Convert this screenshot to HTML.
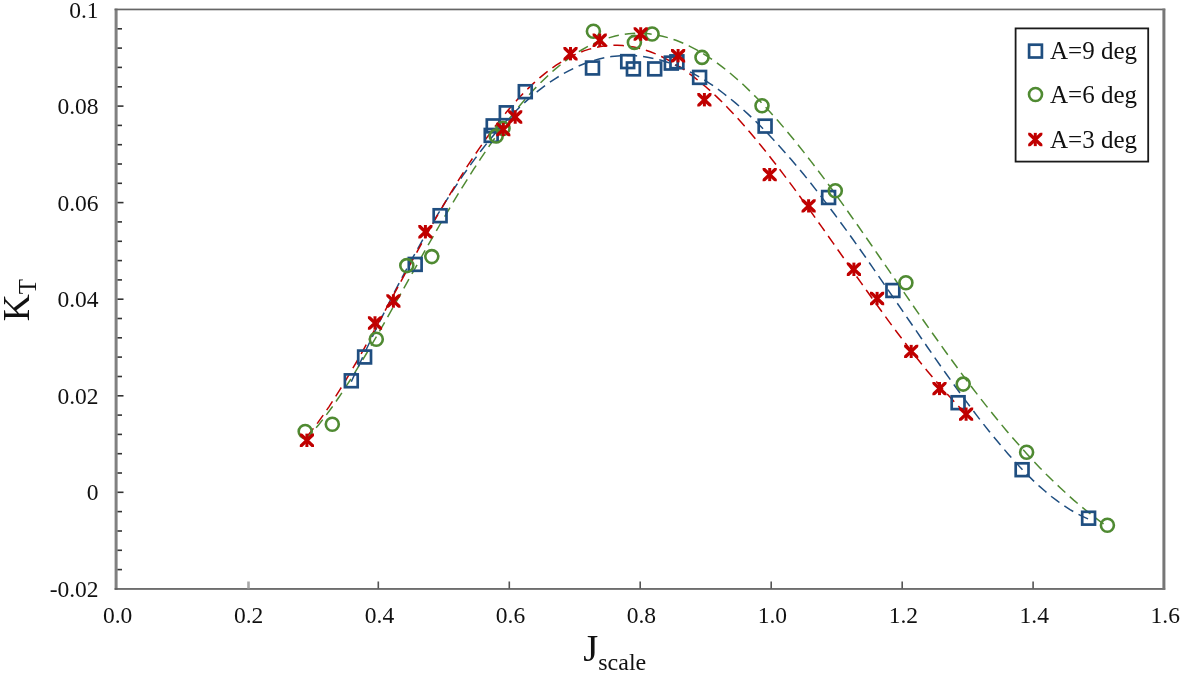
<!DOCTYPE html>
<html><head><meta charset="utf-8"><title>KT vs Jscale</title>
<style>
html,body{margin:0;padding:0;background:#fff;}
svg{display:block;}
text{font-family:"Liberation Serif",serif;fill:#111;}
.tick{font-size:23.5px;}
.leg{font-size:25px;}
</style></head><body>
<svg width="1180" height="673" viewBox="0 0 1180 673">
<rect x="0" y="0" width="1180" height="673" fill="#fff"/>
<defs><clipPath id="sc"><rect x="-7.1" y="-6.7" width="14.2" height="13.4"/></clipPath>
<g id="star" clip-path="url(#sc)" fill="none" stroke="#c00000"><path d="M-9,-8.5L9,8.5M-9,8.5L9,-8.5" stroke-width="3.4"/><path d="M0,-7L0,7" stroke-width="3"/></g></defs>

<g fill="none">
<rect x="114.6" y="8.6" width="3" height="581.2" fill="#808080"/>
<rect x="114.6" y="588.1" width="1050.6" height="1.7" fill="#5e5e5e"/>
<rect x="114.6" y="8.6" width="1050.6" height="1.7" fill="#666"/>
<rect x="1162.4" y="8.6" width="3" height="581.2" fill="#777"/>
</g>
<rect x="117.5" y="28.0" width="4.5" height="1.6" fill="#333"/>
<rect x="117.5" y="47.3" width="4.5" height="1.6" fill="#333"/>
<rect x="117.5" y="66.6" width="4.5" height="1.6" fill="#333"/>
<rect x="117.5" y="86.0" width="4.5" height="1.6" fill="#333"/>
<rect x="117.5" y="105.3" width="6" height="1.6" fill="#333"/>
<rect x="117.5" y="124.6" width="4.5" height="1.6" fill="#333"/>
<rect x="117.5" y="143.9" width="4.5" height="1.6" fill="#333"/>
<rect x="117.5" y="163.2" width="4.5" height="1.6" fill="#333"/>
<rect x="117.5" y="182.5" width="4.5" height="1.6" fill="#333"/>
<rect x="117.5" y="201.8" width="6" height="1.6" fill="#333"/>
<rect x="117.5" y="221.1" width="4.5" height="1.6" fill="#333"/>
<rect x="117.5" y="240.5" width="4.5" height="1.6" fill="#333"/>
<rect x="117.5" y="259.8" width="4.5" height="1.6" fill="#333"/>
<rect x="117.5" y="279.1" width="4.5" height="1.6" fill="#333"/>
<rect x="117.5" y="298.4" width="6" height="1.6" fill="#333"/>
<rect x="117.5" y="317.7" width="4.5" height="1.6" fill="#333"/>
<rect x="117.5" y="337.0" width="4.5" height="1.6" fill="#333"/>
<rect x="117.5" y="356.3" width="4.5" height="1.6" fill="#333"/>
<rect x="117.5" y="375.7" width="4.5" height="1.6" fill="#333"/>
<rect x="117.5" y="395.0" width="6" height="1.6" fill="#333"/>
<rect x="117.5" y="414.3" width="4.5" height="1.6" fill="#333"/>
<rect x="117.5" y="433.6" width="4.5" height="1.6" fill="#333"/>
<rect x="117.5" y="452.9" width="4.5" height="1.6" fill="#333"/>
<rect x="117.5" y="472.2" width="4.5" height="1.6" fill="#333"/>
<rect x="117.5" y="491.5" width="6" height="1.6" fill="#333"/>
<rect x="117.5" y="510.8" width="4.5" height="1.6" fill="#333"/>
<rect x="117.5" y="530.2" width="4.5" height="1.6" fill="#333"/>
<rect x="117.5" y="549.5" width="4.5" height="1.6" fill="#333"/>
<rect x="117.5" y="568.8" width="4.5" height="1.6" fill="#333"/>
<rect x="247.2" y="581.5" width="2.6" height="7" fill="#a8a8a8"/>
<rect x="377.5" y="581.5" width="1.6" height="7" fill="#555"/>
<rect x="508.5" y="581.5" width="1.6" height="7" fill="#555"/>
<rect x="639.4" y="581.5" width="1.6" height="7" fill="#555"/>
<rect x="770.4" y="581.5" width="1.6" height="7" fill="#555"/>
<rect x="901.4" y="581.5" width="1.6" height="7" fill="#555"/>
<rect x="1032.3" y="581.5" width="1.6" height="7" fill="#555"/>
<text class="tick" x="98.6" y="17.6" text-anchor="end">0.1</text>
<text class="tick" x="98.6" y="114.2" text-anchor="end">0.08</text>
<text class="tick" x="98.6" y="210.7" text-anchor="end">0.06</text>
<text class="tick" x="98.6" y="307.3" text-anchor="end">0.04</text>
<text class="tick" x="98.6" y="403.9" text-anchor="end">0.02</text>
<text class="tick" x="98.6" y="500.4" text-anchor="end">0</text>
<text class="tick" x="98.6" y="597.0" text-anchor="end">-0.02</text>
<text class="tick" x="117.6" y="623.4" text-anchor="middle">0.0</text>
<text class="tick" x="248.6" y="623.4" text-anchor="middle">0.2</text>
<text class="tick" x="379.5" y="623.4" text-anchor="middle">0.4</text>
<text class="tick" x="510.5" y="623.4" text-anchor="middle">0.6</text>
<text class="tick" x="641.4" y="623.4" text-anchor="middle">0.8</text>
<text class="tick" x="772.4" y="623.4" text-anchor="middle">1.0</text>
<text class="tick" x="903.4" y="623.4" text-anchor="middle">1.2</text>
<text class="tick" x="1034.3" y="623.4" text-anchor="middle">1.4</text>
<text class="tick" x="1165.3" y="623.4" text-anchor="middle">1.6</text>
<text transform="translate(28.6,321.3) rotate(-90)" font-size="37.5"><tspan>K</tspan><tspan font-size="25" dy="7">T</tspan></text>
<text x="583.3" y="661.2" font-size="38.5"><tspan>J</tspan><tspan font-size="24" dy="8.6">scale</tspan></text>
<path d="M305.2,440.2 L311.9,432.8 L318.7,424.8 L325.4,416.2 L332.2,407.0 L338.9,397.3 L345.6,387.1 L352.4,376.6 L359.1,365.7 L365.9,354.5 L372.6,343.1 L379.4,331.5 L386.1,319.7 L392.8,307.8 L399.6,295.8 L406.3,283.8 L413.1,271.8 L419.8,259.8 L426.5,247.9 L433.3,236.2 L440.0,224.5 L446.8,213.0 L453.5,201.7 L460.2,190.6 L467.0,179.8 L473.7,169.2 L480.5,158.9 L487.2,148.9 L494.0,139.3 L500.7,129.9 L507.4,121.0 L514.2,112.4 L520.9,104.2 L527.7,96.5 L534.4,89.1 L541.1,82.2 L547.9,75.7 L554.6,69.6 L561.4,64.0 L568.1,58.9 L574.8,54.2 L581.6,50.0 L588.3,46.2 L595.1,43.0 L601.8,40.2 L608.6,37.9 L615.3,36.0 L622.0,34.7 L628.8,33.8 L635.5,33.3 L642.3,33.3 L649.0,33.8 L655.7,34.8 L662.5,36.2 L669.2,38.0 L676.0,40.3 L682.7,43.0 L689.4,46.1 L696.2,49.6 L702.9,53.5 L709.7,57.8 L716.4,62.5 L723.2,67.6 L729.9,73.0 L736.6,78.8 L743.4,84.8 L750.1,91.3 L756.9,98.0 L763.6,105.0 L770.3,112.3 L777.1,119.8 L783.8,127.6 L790.6,135.7 L797.3,143.9 L804.0,152.4 L810.8,161.1 L817.5,169.9 L824.3,178.9 L831.0,188.0 L837.8,197.3 L844.5,206.7 L851.2,216.2 L858.0,225.8 L864.7,235.5 L871.5,245.2 L878.2,255.0 L884.9,264.7 L891.7,274.5 L898.4,284.3 L905.2,294.1 L911.9,303.9 L918.6,313.6 L925.4,323.2 L932.1,332.8 L938.9,342.3 L945.6,351.7 L952.4,361.0 L959.1,370.2 L965.8,379.3 L972.6,388.2 L979.3,397.0 L986.1,405.6 L992.8,414.0 L999.5,422.3 L1006.3,430.4 L1013.0,438.3 L1019.8,446.0 L1026.5,453.5 L1033.2,460.8 L1040.0,467.9 L1046.7,474.8 L1053.5,481.4 L1060.2,487.8 L1067.0,494.1 L1073.7,500.1 L1080.4,505.8 L1087.2,511.4 L1093.9,516.7 L1100.7,521.8 L1107.4,526.8" fill="none" stroke="#4f8a32" stroke-width="1.5" stroke-dasharray="10.5 6"/>
<path d="M351.3,381.7 L357.5,368.2 L363.7,354.9 L369.9,341.8 L376.1,328.9 L382.3,316.3 L388.5,303.9 L394.7,291.7 L400.9,279.8 L407.1,268.1 L413.3,256.7 L419.5,245.6 L425.6,234.7 L431.8,224.1 L438.0,213.9 L444.2,203.9 L450.4,194.2 L456.6,184.8 L462.8,175.7 L469.0,166.9 L475.2,158.4 L481.4,150.3 L487.6,142.4 L493.8,134.9 L500.0,127.7 L506.2,120.9 L512.4,114.4 L518.6,108.2 L524.8,102.4 L531.0,96.9 L537.2,91.7 L543.4,86.9 L549.6,82.4 L555.8,78.3 L562.0,74.5 L568.2,71.1 L574.3,68.0 L580.5,65.2 L586.7,62.8 L592.9,60.7 L599.1,59.0 L605.3,57.6 L611.5,56.6 L617.7,55.9 L623.9,55.5 L630.1,55.5 L636.3,55.8 L642.5,56.4 L648.7,57.4 L654.9,58.7 L661.1,60.3 L667.3,62.2 L673.5,64.4 L679.7,67.0 L685.9,69.8 L692.1,72.9 L698.3,76.4 L704.5,80.1 L710.7,84.1 L716.9,88.4 L723.0,93.0 L729.2,97.8 L735.4,102.9 L741.6,108.3 L747.8,113.9 L754.0,119.7 L760.2,125.8 L766.4,132.1 L772.6,138.7 L778.8,145.4 L785.0,152.4 L791.2,159.5 L797.4,166.8 L803.6,174.3 L809.8,182.0 L816.0,189.9 L822.2,197.9 L828.4,206.0 L834.6,214.3 L840.8,222.7 L847.0,231.2 L853.2,239.8 L859.4,248.5 L865.6,257.3 L871.7,266.2 L877.9,275.1 L884.1,284.1 L890.3,293.1 L896.5,302.1 L902.7,311.2 L908.9,320.2 L915.1,329.2 L921.3,338.2 L927.5,347.2 L933.7,356.1 L939.9,365.0 L946.1,373.7 L952.3,382.4 L958.5,391.0 L964.7,399.4 L970.9,407.7 L977.1,415.9 L983.3,423.9 L989.5,431.7 L995.7,439.3 L1001.9,446.7 L1008.1,453.9 L1014.3,460.9 L1020.4,467.5 L1026.6,473.9 L1032.8,480.1 L1039.0,485.9 L1045.2,491.3 L1051.4,496.5 L1057.6,501.2 L1063.8,505.6 L1070.0,509.6 L1076.2,513.2 L1082.4,516.4 L1088.6,519.1" fill="none" stroke="#1f4e80" stroke-width="1.5" stroke-dasharray="10.5 6"/>
<path d="M306.9,436.6 L312.4,429.7 L318.0,422.4 L323.5,414.7 L329.1,406.6 L334.6,398.1 L340.1,389.4 L345.7,380.3 L351.2,371.0 L356.8,361.5 L362.3,351.8 L367.8,341.9 L373.4,332.0 L378.9,321.9 L384.5,311.7 L390.0,301.5 L395.5,291.3 L401.1,281.1 L406.6,270.9 L412.2,260.7 L417.7,250.7 L423.2,240.7 L428.8,230.8 L434.3,221.0 L439.8,211.4 L445.4,201.9 L450.9,192.6 L456.5,183.5 L462.0,174.6 L467.5,165.9 L473.1,157.5 L478.6,149.3 L484.2,141.3 L489.7,133.7 L495.2,126.3 L500.8,119.1 L506.3,112.3 L511.9,105.8 L517.4,99.6 L522.9,93.7 L528.5,88.1 L534.0,82.9 L539.6,77.9 L545.1,73.4 L550.6,69.1 L556.2,65.2 L561.7,61.7 L567.3,58.5 L572.8,55.6 L578.3,53.1 L583.9,50.9 L589.4,49.1 L595.0,47.7 L600.5,46.6 L606.0,45.8 L611.6,45.4 L617.1,45.3 L622.7,45.5 L628.2,46.1 L633.7,47.1 L639.3,48.3 L644.8,49.9 L650.3,51.8 L655.9,54.0 L661.4,56.5 L667.0,59.3 L672.5,62.4 L678.0,65.8 L683.6,69.4 L689.1,73.4 L694.7,77.6 L700.2,82.1 L705.7,86.8 L711.3,91.7 L716.8,96.9 L722.4,102.3 L727.9,108.0 L733.4,113.8 L739.0,119.8 L744.5,126.1 L750.1,132.5 L755.6,139.0 L761.1,145.8 L766.7,152.6 L772.2,159.7 L777.8,166.8 L783.3,174.1 L788.8,181.4 L794.4,188.9 L799.9,196.5 L805.5,204.1 L811.0,211.8 L816.5,219.6 L822.1,227.4 L827.6,235.2 L833.2,243.1 L838.7,251.0 L844.2,258.8 L849.8,266.7 L855.3,274.6 L860.8,282.4 L866.4,290.2 L871.9,298.0 L877.5,305.7 L883.0,313.3 L888.5,320.9 L894.1,328.4 L899.6,335.7 L905.2,343.0 L910.7,350.2 L916.2,357.3 L921.8,364.2 L927.3,371.0 L932.9,377.6 L938.4,384.1 L943.9,390.5 L949.5,396.6 L955.0,402.6 L960.6,408.5 L966.1,414.1" fill="none" stroke="#c00000" stroke-width="1.5" stroke-dasharray="10.5 6"/>
<rect x="344.9" y="374.4" width="12.8" height="12.8" fill="none" stroke="#1f4e80" stroke-width="2.7"/>
<rect x="358.2" y="350.6" width="12.8" height="12.8" fill="none" stroke="#1f4e80" stroke-width="2.7"/>
<rect x="408.8" y="258.0" width="12.8" height="12.8" fill="none" stroke="#1f4e80" stroke-width="2.7"/>
<rect x="433.7" y="209.3" width="12.8" height="12.8" fill="none" stroke="#1f4e80" stroke-width="2.7"/>
<rect x="484.8" y="129.0" width="12.8" height="12.8" fill="none" stroke="#1f4e80" stroke-width="2.7"/>
<rect x="486.8" y="119.5" width="12.8" height="12.8" fill="none" stroke="#1f4e80" stroke-width="2.7"/>
<rect x="499.9" y="106.4" width="12.8" height="12.8" fill="none" stroke="#1f4e80" stroke-width="2.7"/>
<rect x="518.9" y="85.3" width="12.8" height="12.8" fill="none" stroke="#1f4e80" stroke-width="2.7"/>
<rect x="586.1" y="61.6" width="12.8" height="12.8" fill="none" stroke="#1f4e80" stroke-width="2.7"/>
<rect x="621.3" y="55.2" width="12.8" height="12.8" fill="none" stroke="#1f4e80" stroke-width="2.7"/>
<rect x="627.0" y="62.5" width="12.8" height="12.8" fill="none" stroke="#1f4e80" stroke-width="2.7"/>
<rect x="648.3" y="62.5" width="12.8" height="12.8" fill="none" stroke="#1f4e80" stroke-width="2.7"/>
<rect x="664.9" y="56.7" width="12.8" height="12.8" fill="none" stroke="#1f4e80" stroke-width="2.7"/>
<rect x="670.5" y="55.4" width="12.8" height="12.8" fill="none" stroke="#1f4e80" stroke-width="2.7"/>
<rect x="693.2" y="71.0" width="12.8" height="12.8" fill="none" stroke="#1f4e80" stroke-width="2.7"/>
<rect x="758.7" y="119.7" width="12.8" height="12.8" fill="none" stroke="#1f4e80" stroke-width="2.7"/>
<rect x="822.2" y="191.1" width="12.8" height="12.8" fill="none" stroke="#1f4e80" stroke-width="2.7"/>
<rect x="886.5" y="284.1" width="12.8" height="12.8" fill="none" stroke="#1f4e80" stroke-width="2.7"/>
<rect x="951.7" y="396.3" width="12.8" height="12.8" fill="none" stroke="#1f4e80" stroke-width="2.7"/>
<rect x="1015.7" y="463.3" width="12.8" height="12.8" fill="none" stroke="#1f4e80" stroke-width="2.7"/>
<rect x="1082.2" y="511.8" width="12.8" height="12.8" fill="none" stroke="#1f4e80" stroke-width="2.7"/>
<circle cx="305.2" cy="431.5" r="6.5" fill="none" stroke="#4f8a32" stroke-width="2.6"/>
<circle cx="332.3" cy="424.3" r="6.5" fill="none" stroke="#4f8a32" stroke-width="2.6"/>
<circle cx="376.3" cy="339.2" r="6.5" fill="none" stroke="#4f8a32" stroke-width="2.6"/>
<circle cx="406.8" cy="265.6" r="6.5" fill="none" stroke="#4f8a32" stroke-width="2.6"/>
<circle cx="431.8" cy="256.6" r="6.5" fill="none" stroke="#4f8a32" stroke-width="2.6"/>
<circle cx="496.2" cy="136.0" r="6.5" fill="none" stroke="#4f8a32" stroke-width="2.6"/>
<circle cx="503.0" cy="128.5" r="6.5" fill="none" stroke="#4f8a32" stroke-width="2.6"/>
<circle cx="593.4" cy="31.2" r="6.5" fill="none" stroke="#4f8a32" stroke-width="2.6"/>
<circle cx="634.4" cy="42.4" r="6.5" fill="none" stroke="#4f8a32" stroke-width="2.6"/>
<circle cx="652.1" cy="34.0" r="6.5" fill="none" stroke="#4f8a32" stroke-width="2.6"/>
<circle cx="702.0" cy="57.4" r="6.5" fill="none" stroke="#4f8a32" stroke-width="2.6"/>
<circle cx="762.0" cy="105.8" r="6.5" fill="none" stroke="#4f8a32" stroke-width="2.6"/>
<circle cx="835.3" cy="190.7" r="6.5" fill="none" stroke="#4f8a32" stroke-width="2.6"/>
<circle cx="905.9" cy="282.7" r="6.5" fill="none" stroke="#4f8a32" stroke-width="2.6"/>
<circle cx="963.2" cy="384.1" r="6.5" fill="none" stroke="#4f8a32" stroke-width="2.6"/>
<circle cx="1026.6" cy="452.3" r="6.5" fill="none" stroke="#4f8a32" stroke-width="2.6"/>
<circle cx="1107.4" cy="525.3" r="6.5" fill="none" stroke="#4f8a32" stroke-width="2.6"/>
<use href="#star" x="306.9" y="440.3"/>
<use href="#star" x="375.0" y="323.0"/>
<use href="#star" x="393.4" y="301.0"/>
<use href="#star" x="425.4" y="231.8"/>
<use href="#star" x="503.3" y="129.5"/>
<use href="#star" x="515.2" y="117.0"/>
<use href="#star" x="570.5" y="53.7"/>
<use href="#star" x="599.7" y="40.2"/>
<use href="#star" x="640.7" y="34.0"/>
<use href="#star" x="678.1" y="55.8"/>
<use href="#star" x="704.4" y="99.8"/>
<use href="#star" x="769.7" y="174.6"/>
<use href="#star" x="808.6" y="205.9"/>
<use href="#star" x="853.9" y="269.2"/>
<use href="#star" x="877.1" y="298.5"/>
<use href="#star" x="911.2" y="351.4"/>
<use href="#star" x="939.5" y="388.6"/>
<use href="#star" x="966.1" y="414.1"/>
<rect x="1015.6" y="28.4" width="132.6" height="133.2" fill="#fff" stroke="#1a1a1a" stroke-width="1.8"/>
<rect x="1029.1" y="44.7" width="12.8" height="12.8" fill="none" stroke="#1f4e80" stroke-width="2.7"/>
<circle cx="1035.5" cy="94.5" r="6.5" fill="none" stroke="#4f8a32" stroke-width="2.6"/>
<use href="#star" x="1035.3" y="139.5"/>
<text class="leg" x="1050" y="59.1">A=9 deg</text>
<text class="leg" x="1050" y="102.5">A=6 deg</text>
<text class="leg" x="1050" y="147.5">A=3 deg</text>
</svg></body></html>
